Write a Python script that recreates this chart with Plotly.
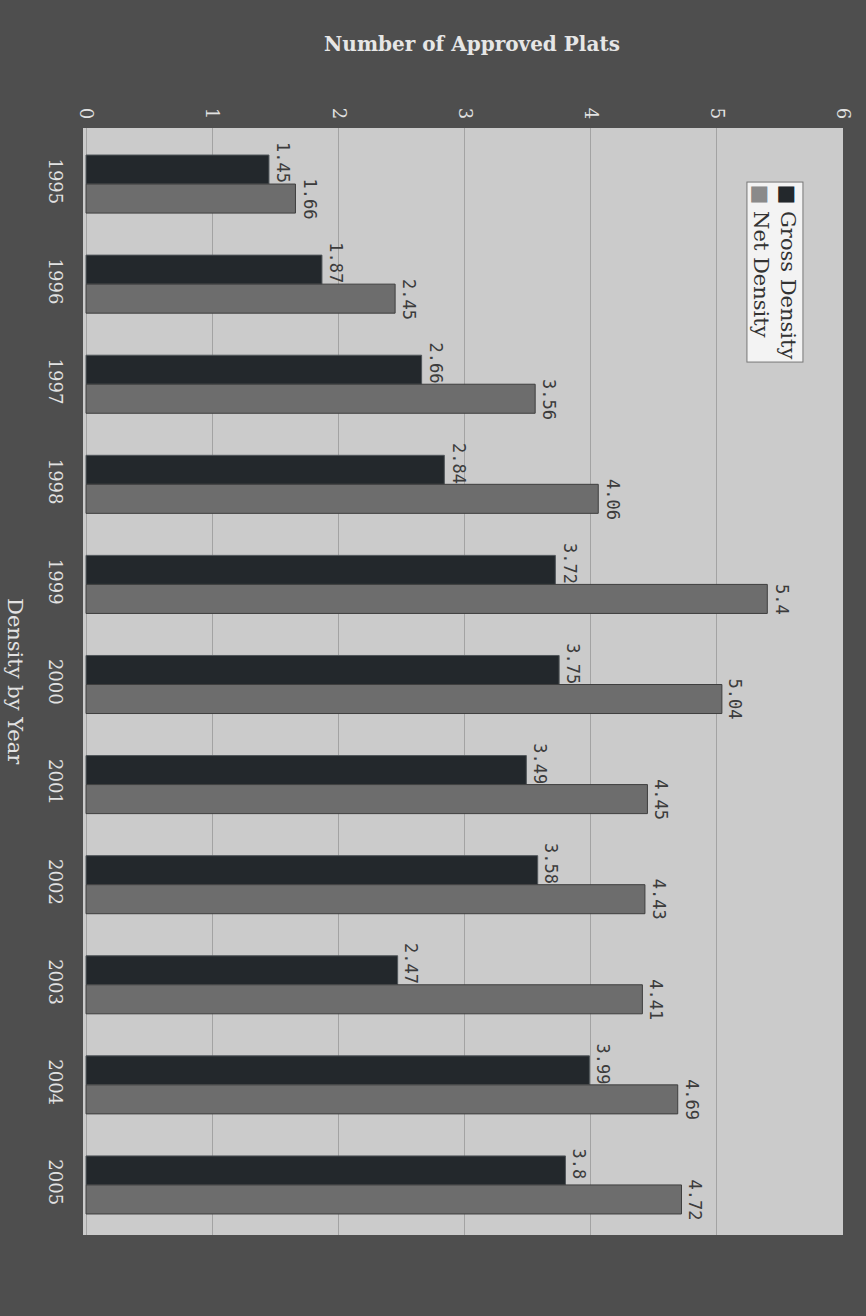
import plotly.graph_objects as go

years = ["1995", "1996", "1997", "1998", "1999", "2000", "2001", "2002", "2003", "2004", "2005"]
gross_density = [1.45, 1.87, 2.66, 2.84, 3.72, 3.75, 3.49, 3.58, 2.47, 3.99, 3.8]
net_density = [1.66, 2.45, 3.56, 4.06, 5.4, 5.04, 4.45, 4.43, 4.41, 4.69, 4.72]
value_ticks = [0, 1, 2, 3, 4, 5, 6]

GROSS_COLOR = "#23282c"
NET_COLOR = "#6d6d6d"
LABEL_FONT = dict(family="DejaVu Sans Mono", size=17, color="#3c3c3c")
AXIS_FONT = dict(family="DejaVu Serif", size=18, color="#e2e2e2")

fig = go.Figure()
fig.add_trace(go.Bar(
    name="Gross Density", y=years, x=gross_density, orientation="h",
    marker=dict(color=GROSS_COLOR, line=dict(color="#50565a", width=1)),
    showlegend=False,
))
fig.add_trace(go.Bar(
    name="Net Density", y=years, x=net_density, orientation="h",
    marker=dict(color=NET_COLOR, line=dict(color="#3e3e3e", width=1)),
    showlegend=False,
))

# rotated value labels placed at each bar end (on top of all bars);
# y is the category index of each year on the category axis
annotations = []
for series, yshift in ((gross_density, 21), (net_density, -15)):
    for idx, v in enumerate(series):
        annotations.append(dict(
            x=v, y=idx, xref="x", yref="y", text=str(v), textangle=90,
            showarrow=False, xanchor="center", yanchor="middle",
            xshift=14, yshift=yshift, font=LABEL_FONT,
        ))

annotations.append(dict(
    text="Density by Year", textangle=90, showarrow=False,
    xref="paper", yref="paper", x=(15 - 83) / 765, y=0.5,
    xanchor="center", yanchor="middle",
    font=dict(family="DejaVu Serif", size=21, color="#e2e2e2"),
))
annotations.append(dict(
    text=("<span style='color:%s'>■</span> Gross Density<br>"
          "<span style='color:#8a8a8a'>■</span> Net Density") % GROSS_COLOR,
    textangle=90, showarrow=False, align="left",
    xref="paper", yref="paper",
    x=(780 - 83) / 765, y=1 - (272 - 128) / 1107,
    xanchor="center", yanchor="middle",
    font=dict(family="DejaVu Serif", size=21, color="#333333"),
    bgcolor="#f3f3f3", bordercolor="#777777", borderwidth=1, borderpad=2,
))

fig.update_layout(
    width=866, height=1316,
    margin=dict(l=83, r=18, t=128, b=81),
    paper_bgcolor="#4e4e4e",
    plot_bgcolor="#cbcbcb",
    barmode="group",
    bargap=0.42,
    bargroupgap=0.0,
    title=dict(
        text="<b>Number of Approved Plats</b>",
        font=dict(family="DejaVu Serif", size=20, color="#e6e6e6"),
        x=472 / 866, xref="container", xanchor="center",
        y=1 - 44 / 1316, yref="container", yanchor="middle",
    ),
    xaxis=dict(
        side="top", range=[-0.024, 6.0], tickvals=value_ticks,
        tickangle=90, tickfont=AXIS_FONT, ticklabelstandoff=5,
        showgrid=True, gridcolor="#a3a3a3", gridwidth=1,
        zeroline=False, showline=False, ticks="",
    ),
    yaxis=dict(
        type="category", categoryorder="array", categoryarray=years,
        range=[10.5, -0.56], tickangle=90, tickfont=AXIS_FONT,
        ticklabelstandoff=15, showgrid=False, zeroline=False, ticks="",
    ),
    annotations=annotations,
)

fig.write_html("out.html", config={"displayModeBar": False},
               post_script="document.body.style.margin='0px';")
